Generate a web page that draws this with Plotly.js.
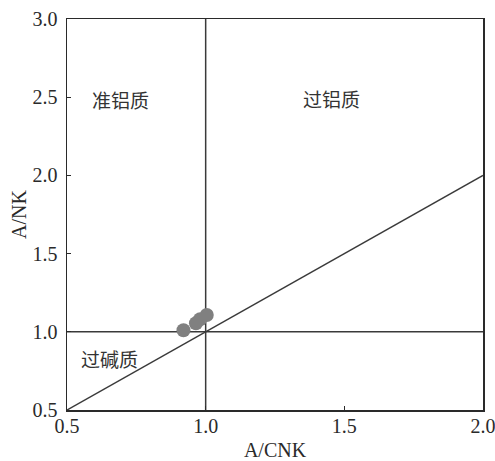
<!DOCTYPE html>
<html>
<head>
<meta charset="utf-8">
<script src="https://cdn.plot.ly/plotly-3.0.1.min.js"></script>
<style>html,body{margin:0;padding:0;background:#fff}#chart{width:495px;height:461px}</style>
</head>
<body>
<div id="chart"></div>
<script>
// Sample compositions (A/CNK vs A/NK)
const acnk = [0.92, 0.965, 0.98, 1.004];
const ank  = [1.01, 1.055, 1.08, 1.107];

// Field boundaries
const divX = [1.0, 1.0];
const divXy = [0.5, 3.0];
const divYx = [0.5, 2.0];
const divY = [1.0, 1.0];
const diagX = [0.5, 2.0];
const diagY = [0.5, 2.0];

// Field labels
const fieldNames = ['准铝质', '过铝质', '过碱质'];
const fieldX = [0.693, 1.452, 0.653];
const fieldY = [2.487, 2.493, 0.83];

const xTicks = [0.5, 1.0, 1.5, 2.0];
const yTicks = [0.5, 1.0, 1.5, 2.0, 2.5, 3.0];

const ink = '#2a2a2a';
const lineStyle = {color: '#3a3a3a', width: 1.5};
const serif = 'Liberation Serif, Times New Roman, serif';

const traces = [
  {x: divX, y: divXy, mode: 'lines', line: lineStyle, hoverinfo: 'skip'},
  {x: divYx, y: divY, mode: 'lines', line: lineStyle, hoverinfo: 'skip'},
  {x: diagX, y: diagY, mode: 'lines', line: lineStyle, hoverinfo: 'skip'},
  {x: acnk, y: ank, mode: 'markers', marker: {size: 14, color: '#808080'}}
];

const layout = {
  width: 495, height: 461,
  margin: {l: 67, r: 12, t: 19, b: 51},
  showlegend: false,
  paper_bgcolor: '#fff', plot_bgcolor: '#fff',
  font: {family: serif, size: 20, color: ink},
  xaxis: {
    range: [0.5, 2.0], tickvals: xTicks, ticktext: xTicks.map(v => v.toFixed(1)),
    ticks: 'inside', ticklen: 4, tickcolor: ink, showgrid: false, zeroline: false,
    showline: true, linecolor: ink, linewidth: 1.5, mirror: true,
    ticklabeloverflow: 'allow', ticklabelstandoff: -3,
    tickfont: {family: serif, size: 20, color: ink},
    title: {text: 'A/CNK', font: {family: serif, size: 20, color: ink}, standoff: 9}
  },
  yaxis: {
    range: [0.5, 3.0], tickvals: yTicks, ticktext: yTicks.map(v => v.toFixed(1)),
    ticks: 'inside', ticklen: 4, tickcolor: ink, showgrid: false, zeroline: false,
    showline: true, linecolor: ink, linewidth: 1.5, mirror: true,
    ticklabeloverflow: 'allow', ticklabelstandoff: 4,
    tickfont: {family: serif, size: 20, color: ink},
    title: {text: 'A/NK', font: {family: serif, size: 20, color: ink}, standoff: 0}
  },
  annotations: fieldNames.map((t, i) => ({
    x: fieldX[i], y: fieldY[i], text: t, showarrow: false,
    font: {family: 'Noto Sans CJK SC, sans-serif', size: 19, color: '#333'}
  }))
};

Plotly.newPlot('chart', traces, layout, {displayModeBar: false, staticPlot: true});
</script>
</body>
</html>
